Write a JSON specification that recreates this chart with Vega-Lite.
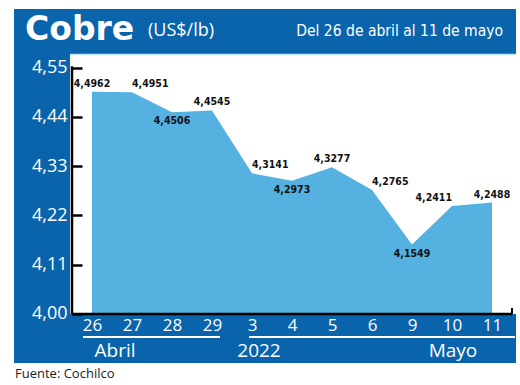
{
  "$schema": "https://vega.github.io/schema/vega-lite/v6.json",
  "width": 502,
  "height": 354,
  "autosize": {"type": "none"},
  "padding": {"left": 14, "top": 9, "right": 4, "bottom": 22},
  "background": "white",
  "config": {
    "view": {"stroke": null, "fill": "#0964AB"},
    "locale": {"number": {"decimal": ",", "thousands": ".", "grouping": [3], "currency": ["", " US$"]}}
  },
  "data": {
    "values": [
      {"i": 0, "day": "26", "value": 4.4962},
      {"i": 1, "day": "27", "value": 4.4951},
      {"i": 2, "day": "28", "value": 4.4506},
      {"i": 3, "day": "29", "value": 4.4545},
      {"i": 4, "day": "3", "value": 4.3141},
      {"i": 5, "day": "4", "value": 4.2973},
      {"i": 6, "day": "5", "value": 4.3277},
      {"i": 7, "day": "6", "value": 4.2765},
      {"i": 8, "day": "9", "value": 4.1549},
      {"i": 9, "day": "10", "value": 4.2411},
      {"i": 10, "day": "11", "value": 4.2488}
    ]
  },
  "layer": [
    {
      "data": {"values": [{}]},
      "mark": {"type": "rect", "fill": "white"},
      "encoding": {
        "x": {"datum": -0.55, "type": "quantitative", "scale": {"domain": [-1.95, 10.6], "nice": false, "zero": false},
          "axis": {
            "orient": "bottom", "offset": -49, "values": [0, 1, 2, 3, 4, 5, 6, 7, 8, 9, 10],
            "labelExpr": "['26','27','28','29','3','4','5','6','9','10','11'][datum.value]",
            "domain": false, "ticks": false, "grid": false, "title": null, "zindex": 1,
            "labelColor": "white", "labelFont": "Open Sans", "labelFontSize": 17,
            "labelPadding": 3, "labelOverlap": false, "labelFlush": false, "labelBound": false
          }
        },
        "x2": {"datum": 10.6},
        "y": {"datum": 4.0, "type": "quantitative", "scale": {"domain": [3.8906, 4.6808], "nice": false, "zero": false},
          "axis": {
            "orient": "left", "offset": -58, "values": [4.0, 4.11, 4.22, 4.33, 4.44, 4.55],
            "format": ".2f", "domain": false, "ticks": true, "tickSize": -10, "tickWidth": 2.5,
            "tickColor": "black", "grid": false, "title": null, "zindex": 1,
            "labelColor": "white", "labelFont": "Open Sans", "labelFontSize": 18,
            "labelPadding": 15, "labelOverlap": false, "labelFlush": false, "labelBound": false
          }
        },
        "y2": {"datum": 4.5804}
      }
    },
    {
      "data": {"values": [{}]},
      "mark": {"type": "rule", "color": "#BFE7F8", "strokeWidth": 1.5},
      "encoding": {
        "x": {"datum": -0.55, "type": "quantitative", "title": null},
        "x2": {"datum": 10.6},
        "y": {"datum": 4.579, "type": "quantitative", "title": null}
      }
    },
    {
      "mark": {"type": "area", "color": "#55B2E0", "interpolate": "linear"},
      "encoding": {
        "x": {"field": "i", "type": "quantitative", "title": null},
        "y": {"field": "value", "type": "quantitative", "title": null},
        "y2": {"datum": 4.0}
      }
    },
    {
      "data": {"values": [{}]},
      "mark": {"type": "rule", "color": "black", "strokeWidth": 2.5},
      "encoding": {
        "x": {"datum": -0.5, "type": "quantitative", "title": null},
        "y": {"datum": 4.0, "type": "quantitative", "title": null},
        "y2": {"datum": 4.553}
      }
    },
    {
      "data": {"values": [{}]},
      "mark": {"type": "rule", "color": "black", "strokeWidth": 2.5},
      "encoding": {
        "x": {"datum": -0.5, "type": "quantitative", "title": null},
        "x2": {"datum": 10.5},
        "y": {"datum": 4.0, "type": "quantitative", "title": null}
      }
    },
    {
      "data": {"values": [{}]},
      "mark": {"type": "rule", "color": "black", "strokeWidth": 2},
      "encoding": {
        "x": {"datum": 10.5, "type": "quantitative", "title": null},
        "y": {"datum": 4.0, "type": "quantitative", "title": null},
        "y2": {"datum": 4.0134}
      }
    },
    {
      "mark": {
        "type": "text", "font": "DejaVu Sans Condensed, Roboto Condensed, Roboto", "fontWeight": "bold", "fontSize": 10.5, "color": "#111111",
        "baseline": "middle",
        "align": {"expr": "indexof([1,4,7], datum.i) >= 0 ? 'left' : (datum.i == 9 ? 'right' : 'center')"},
        "dy": {"expr": "indexof([2,5,8], datum.i) >= 0 ? 9 : -8"}
      },
      "encoding": {
        "x": {"field": "i", "type": "quantitative", "title": null},
        "y": {"field": "value", "type": "quantitative", "title": null},
        "text": {"field": "value", "type": "quantitative", "format": ".4f"}
      }
    },
    {
      "data": {"values": [{}]},
      "mark": {"type": "text", "text": "Cobre", "font": "DejaVu Sans", "fontWeight": "bold", "fontSize": 33, "color": "white", "align": "left", "baseline": "alphabetic"},
      "encoding": {"x": {"datum": -1.675, "type": "quantitative", "title": null}, "y": {"datum": 4.6116, "type": "quantitative", "title": null}}
    },
    {
      "data": {"values": [{}]},
      "mark": {"type": "text", "text": "(US$/lb)", "font": "Open Sans", "fontSize": 18, "color": "white", "align": "left", "baseline": "alphabetic"},
      "encoding": {"x": {"datum": 1.4, "type": "quantitative", "title": null}, "y": {"datum": 4.6205, "type": "quantitative", "title": null}}
    },
    {
      "data": {"values": [{}]},
      "mark": {"type": "text", "text": "Del 26 de abril al 11 de mayo", "font": "DejaVu Sans Condensed, Roboto Condensed, Roboto", "fontSize": 15.5, "color": "white", "align": "right", "baseline": "alphabetic"},
      "encoding": {"x": {"datum": 10.275, "type": "quantitative", "title": null}, "y": {"datum": 4.6205, "type": "quantitative", "title": null}}
    },
    {
      "data": {"values": [{}]},
      "mark": {"type": "rule", "color": "white", "strokeWidth": 2},
      "encoding": {"x": {"datum": -0.225, "type": "quantitative", "title": null}, "x2": {"datum": 3.2}, "y": {"datum": 3.9487, "type": "quantitative", "title": null}}
    },
    {
      "data": {"values": [{}]},
      "mark": {"type": "rule", "color": "white", "strokeWidth": 2},
      "encoding": {"x": {"datum": 3.925, "type": "quantitative", "title": null}, "x2": {"datum": 10.575}, "y": {"datum": 3.9487, "type": "quantitative", "title": null}}
    },
    {
      "data": {"values": [{}]},
      "mark": {"type": "text", "text": "Abril", "font": "Open Sans", "fontSize": 19, "color": "white", "align": "center", "baseline": "alphabetic"},
      "encoding": {"x": {"datum": 0.575, "type": "quantitative", "title": null}, "y": {"datum": 3.904, "type": "quantitative", "title": null}}
    },
    {
      "data": {"values": [{}]},
      "mark": {"type": "text", "text": "2022", "font": "Open Sans", "fontSize": 19, "color": "white", "align": "center", "baseline": "alphabetic"},
      "encoding": {"x": {"datum": 4.175, "type": "quantitative", "title": null}, "y": {"datum": 3.904, "type": "quantitative", "title": null}}
    },
    {
      "data": {"values": [{}]},
      "mark": {"type": "text", "text": "Mayo", "font": "Open Sans", "fontSize": 19, "color": "white", "align": "center", "baseline": "alphabetic"},
      "encoding": {"x": {"datum": 9.025, "type": "quantitative", "title": null}, "y": {"datum": 3.904, "type": "quantitative", "title": null}}
    },
    {
      "data": {"values": [{}]},
      "mark": {"type": "text", "text": "Fuente: Cochilco", "font": "Open Sans", "fontSize": 13, "color": "#222222", "align": "left", "baseline": "alphabetic"},
      "encoding": {"x": {"datum": -1.925, "type": "quantitative", "title": null}, "y": {"datum": 3.8571, "type": "quantitative", "title": null}}
    }
  ]
}
